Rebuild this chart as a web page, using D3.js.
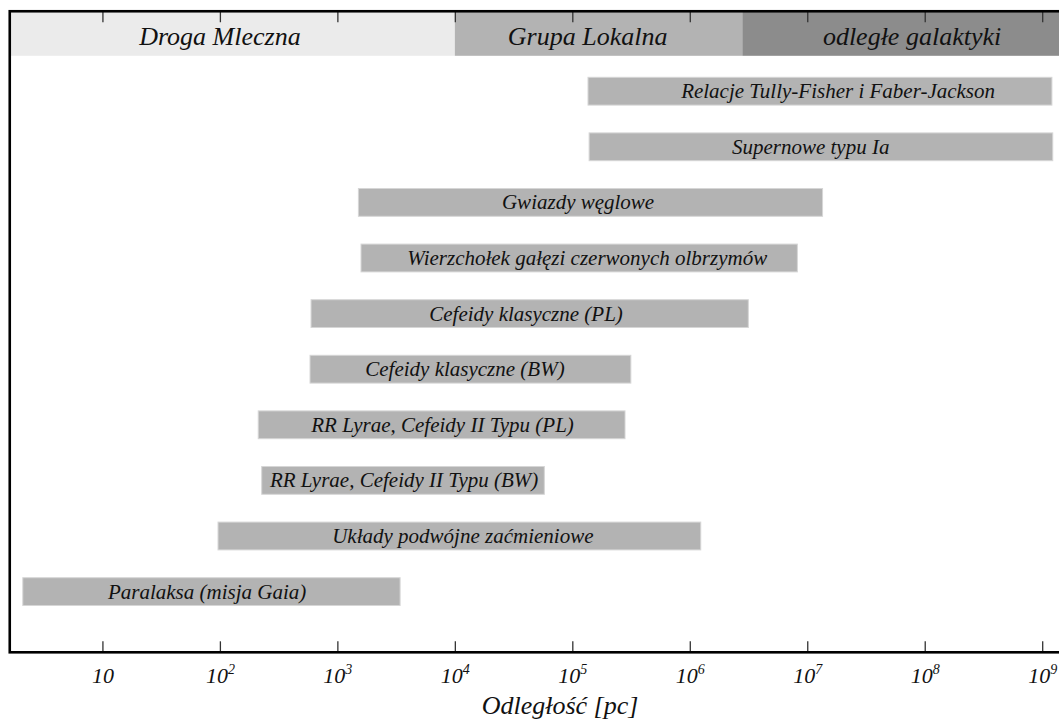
<!DOCTYPE html>
<html>
<head>
<meta charset="utf-8">
<script src="https://cdn.jsdelivr.net/npm/d3@7"></script>
<style>
  html, body { margin: 0; padding: 0; background: #fff; }
  svg { display: block; font-family: "Liberation Serif", "Times New Roman", serif; font-style: italic; }
</style>
</head>
<body>
<svg id="chart" width="1059" height="722"></svg>
<script>
// ---- data ----
const methods = [
  "Relacje Tully-Fisher i Faber-Jackson",
  "Supernowe typu Ia",
  "Gwiazdy węglowe",
  "Wierzchołek gałęzi czerwonych olbrzymów",
  "Cefeidy klasyczne (PL)",
  "Cefeidy klasyczne (BW)",
  "RR Lyrae, Cefeidy II Typu (PL)",
  "RR Lyrae, Cefeidy II Typu (BW)",
  "Układy podwójne zaćmieniowe",
  "Paralaksa (misja Gaia)"
];
const rangeMin = [1.36e5, 1.39e5, 1.51e3, 1.59e3, 597, 585, 212, 227, 96.4, 2.1];      // pc
const rangeMax = [1.21e9, 1.23e9, 1.35e7, 8.24e6, 3.15e6, 3.15e5, 2.81e5, 5.78e4, 1.24e6, 3.42e3]; // pc
const labelAt  = [1.83e7, 1.07e7, 1.12e5, 1.34e5, 4.04e4, 1.22e4, 7.86e3, 3.7e3, 1.17e4, 77.8];   // pc

const regionNames = ["Droga Mleczna", "Grupa Lokalna", "odległe galaktyki"];
const regionStart = [1.634, 1e4, 2.8e6];
const regionEnd   = [1e4, 2.8e6, 1e10];
const regionLabelAt = [100, 1.35e5, 7.8e7];
const regionColors = ["#ebebeb", "#b3b3b3", "#8c8c8c"];

const tickExponents = [1, 2, 3, 4, 5, 6, 7, 8, 9];
const axisLimits = [1.634, 1.39e9];
const axisTitle = "Odległość [pc]";

// ---- layout ----
const W = 1059, H = 722;
const plotLeft = 10, plotRight = 1059, plotTop = 11.25, plotBottom = 652.3;
const bandBottom = 55.8;

const svg = d3.select("#chart");

const x = d3.scaleLog().domain(axisLimits).range([plotLeft, plotRight]);
const y = d3.scaleBand().domain(methods).range([49.5, 633.3]).paddingInner(0.5).paddingOuter(0.5);

// region bands at top
const regions = regionNames.map((n, i) => ({ name: n, s: regionStart[i], e: regionEnd[i], l: regionLabelAt[i], c: regionColors[i] }));
svg.append("g").selectAll("rect").data(regions).join("rect")
  .attr("x", d => Math.max(plotLeft, x(d.s)))
  .attr("y", plotTop)
  .attr("width", d => Math.min(W + 50, x(d.e)) - Math.max(plotLeft, x(d.s)))
  .attr("height", bandBottom - plotTop)
  .attr("fill", d => d.c);
svg.append("g").selectAll("text").data(regions).join("text")
  .attr("x", d => x(d.l))
  .attr("y", 44.6)
  .attr("text-anchor", "middle")
  .attr("font-size", 26)
  .attr("fill", "#111")
  .text(d => d.name);

// bars
const bars = methods.map((m, i) => ({ name: m, lo: rangeMin[i], hi: rangeMax[i], l: labelAt[i] }));
const bg = svg.append("g");
bg.selectAll("rect").data(bars).join("rect")
  .attr("x", d => x(d.lo))
  .attr("y", d => y(d.name))
  .attr("width", d => x(d.hi) - x(d.lo))
  .attr("height", y.bandwidth())
  .attr("fill", "#b3b3b3")
  .attr("stroke", "#d6d6d6")
  .attr("stroke-width", 1);
bg.selectAll("text").data(bars).join("text")
  .attr("x", d => x(d.l))
  .attr("y", d => y(d.name) + y.bandwidth() / 2)
  .attr("dy", "0.33em")
  .attr("text-anchor", "middle")
  .attr("font-size", 21)
  .attr("fill", "#111")
  .text(d => d.name);

// axes: ticks (inward) at bottom and top
const tickVals = tickExponents.map(e => Math.pow(10, e));
const bottomAxis = svg.append("g").attr("transform", `translate(0,${plotBottom})`)
  .call(d3.axisBottom(x).tickValues(tickVals).tickSizeInner(-11).tickSizeOuter(0).tickFormat(""));
const topAxis = svg.append("g").attr("transform", `translate(0,${plotTop})`)
  .call(d3.axisTop(x).tickValues(tickVals).tickSizeInner(-11).tickSizeOuter(0).tickFormat(""));
[bottomAxis, topAxis].forEach(a => {
  a.select(".domain").remove();
  a.selectAll(".tick line").attr("stroke", "#333").attr("stroke-width", 1.3);
});

// tick labels with superscripts
bottomAxis.selectAll(".tick").each(function(d, i) {
  const e = tickExponents[i];
  const t = d3.select(this).append("text")
    .attr("y", 31)
    .attr("text-anchor", "middle")
    .attr("font-size", 22)
    .attr("fill", "#111")
    .style("font-family", '"Liberation Serif", serif')
    .style("font-style", "italic");
  t.append("tspan").text("10");
  if (e !== 1) {
    t.append("tspan").attr("dy", -9).attr("font-size", 14).text(String(e));
  }
});

// frame
svg.append("rect")
  .attr("x", 9.75).attr("y", plotTop)
  .attr("width", W + 40).attr("height", plotBottom - plotTop)
  .attr("fill", "none").attr("stroke", "#000").attr("stroke-width", 2.6);

// axis title
svg.append("text")
  .attr("x", 560).attr("y", 714)
  .attr("text-anchor", "middle")
  .attr("font-size", 26)
  .attr("fill", "#111")
  .text(axisTitle);
</script>
</body>
</html>
